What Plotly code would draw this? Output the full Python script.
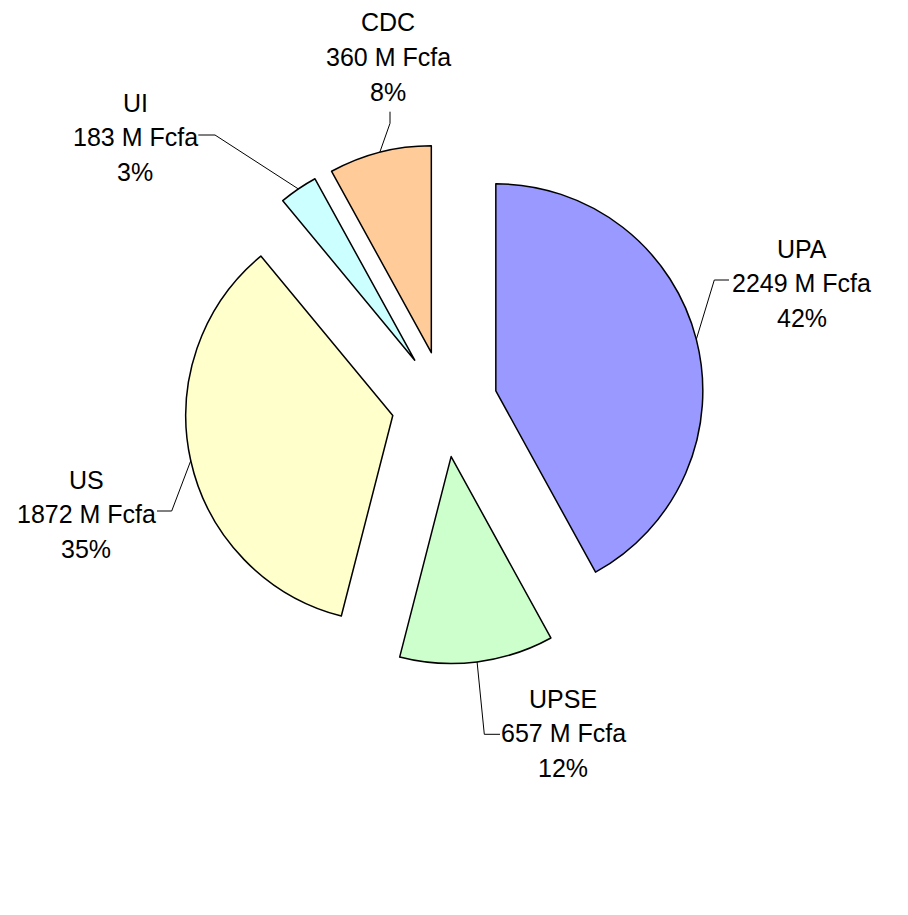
import math
import plotly.graph_objects as go

# ---- data ----
labels = ["UPA", "UPSE", "US", "UI", "CDC"]
amounts = [2249, 657, 1872, 183, 360]          # M Fcfa
shares = [42, 12, 35, 3, 8]                     # percent (slice sizes)
colors = ["#9999FF", "#CCFFCC", "#FFFFCC", "#CCFFFF", "#FFCC99"]

# ---- layout constants (page pixels) ----
W, H = 908, 915
OFF = 8.0   # page body margin offset
CX, CY, R = 444.5, 404.0, 207.0
PULL = 0.256
FONT = dict(family="Liberation Sans, Arial, sans-serif", size=25, color="black")
LINE_GAP = 34.5

# label placement: text centre x, middle-line y, attach point, elbow point
label_pos = [
    dict(x=801.7, y=283.0, attach=(729.0, 280.0), elbow=(714.3, 280.0)),
    dict(x=563.3, y=733.3, attach=(500.0, 734.3), elbow=(484.3, 734.3)),
    dict(x=86.0, y=514.0, attach=(157.0, 511.0), elbow=(171.7, 511.0)),
    dict(x=135.0, y=137.0, attach=(198.3, 135.0), elbow=(215.0, 135.0)),
    dict(x=388.3, y=57.0, attach=(390.0, 111.7), elbow=(390.0, 123.3)),
]

def px(x):
    return (x - OFF) / W

def py(y):
    return 1 - (y - OFF) / H

half = R * (1 + PULL)
dom_x = [px(CX - half), px(CX + half)]
dom_y = [py(CY + half), py(CY - half)]

fig = go.Figure(go.Pie(
    labels=labels,
    values=shares,
    sort=False,
    direction="clockwise",
    rotation=0,
    pull=[PULL] * len(labels),
    marker=dict(colors=colors, line=dict(color="black", width=1.5)),
    textinfo="none",
    hoverinfo="label+value",
    domain=dict(x=dom_x, y=dom_y),
    showlegend=False,
))

total = sum(shares)
cum = 0.0
annotations = []
shapes = []
for i, lab in enumerate(labels):
    mid = (cum + shares[i] / 2) / total * 2 * math.pi
    cum += shares[i]
    ax = CX + R * (1 + PULL) * math.sin(mid)
    ay = CY - R * (1 + PULL) * math.cos(mid)
    lp = label_pos[i]
    lines = [lab, f"{amounts[i]} M Fcfa", f"{shares[i]}%"]
    for j, t in enumerate(lines):
        annotations.append(dict(
            x=px(lp["x"]), y=py(lp["y"] + (j - 1) * LINE_GAP),
            xref="paper", yref="paper", text=t, showarrow=False,
            xanchor="center", yanchor="middle", font=FONT,
        ))
    (x0, y0), (x1, y1) = lp["attach"], lp["elbow"]
    shapes.append(dict(
        type="path", xref="paper", yref="paper",
        path=f"M {px(x0)},{py(y0)} L {px(x1)},{py(y1)} L {px(ax)},{py(ay)}",
        line=dict(color="black", width=1),
    ))

fig.update_layout(
    width=W, height=H,
    margin=dict(l=0, r=0, t=0, b=0),
    paper_bgcolor="white",
    plot_bgcolor="white",
    annotations=annotations,
    shapes=shapes,
)

fig.write_html("out.html")
